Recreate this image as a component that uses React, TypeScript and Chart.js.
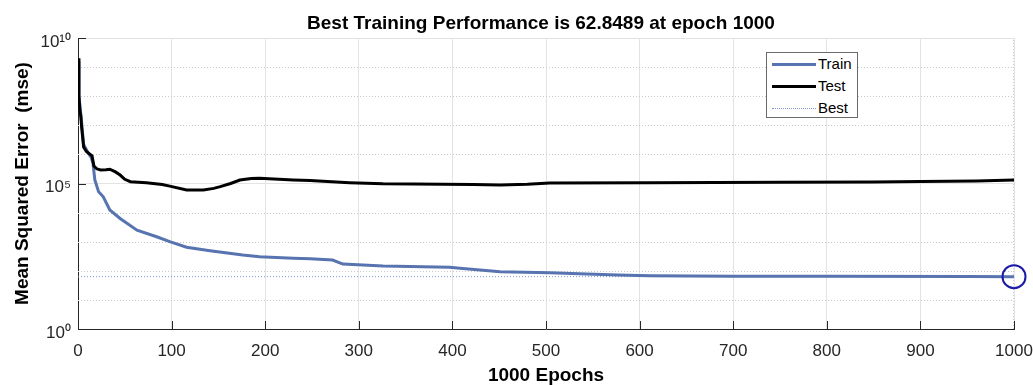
import React, { useEffect, useRef } from "react";
import { Chart, registerables } from "chart.js";

Chart.register(...registerables);

const titleText = "Best Training Performance is 62.8489 at epoch 1000";
const xAxisTitle = "1000 Epochs";
const yAxisTitle = "Mean Squared Error  (mse)";
const xTicks = [0, 100, 200, 300, 400, 500, 600, 700, 800, 900, 1000];
const yDecades = [0, 1, 2, 3, 4, 5, 6, 7, 8, 9, 10];
const yLabeled: Record<number, string> = { 0: "10⁰", 5: "10⁵", 10: "10¹⁰" };

const testEpochs = [0, 1, 2, 3, 4, 6, 9, 13, 15, 17, 20, 24, 30, 34, 40, 45, 50, 56, 73, 90, 98, 116, 134, 145, 152, 163, 173, 185, 194, 230, 248, 290, 326, 422, 451, 480, 504, 611, 750, 850, 900, 960, 1000];
const testMse = [2.0e9, 1.0e8, 3.2e7, 2.0e7, 7.9e6, 1.8e6, 1.26e6, 1.0e6, 8.9e5, 4.0e5, 3.2e5, 2.9e5, 2.95e5, 3.1e5, 2.5e5, 1.95e5, 1.4e5, 1.15e5, 1.07e5, 9.3e4, 8.1e4, 6.0e4, 6.0e4, 6.8e4, 7.8e4, 1.0e5, 1.32e5, 1.48e5, 1.51e5, 1.32e5, 1.26e5, 1.07e5, 9.8e4, 9.3e4, 8.9e4, 9.5e4, 1.05e5, 1.07e5, 1.1e5, 1.12e5, 1.17e5, 1.23e5, 1.32e5];

const trainEpochs = [0, 1, 3, 6, 11, 14, 16, 18, 22, 27, 34, 45, 63, 84, 98, 116, 141, 176, 194, 230, 248, 272, 283, 326, 397, 408, 451, 504, 576, 611, 700, 800, 950, 1000];
const trainMse = [1.6e9, 1.0e8, 2.5e7, 2.2e6, 1.1e6, 7.9e5, 4.9e5, 1.32e5, 5.2e4, 3.5e4, 1.23e4, 6.3e3, 2.5e3, 1.48e3, 1.0e3, 646, 490, 347, 302, 269, 257, 234, 170, 145, 132, 123, 93, 85, 72, 68, 65.3, 64.6, 63.8, 62.8489];

const bestEpoch = 1000;
const bestMse = 62.8489;
const yMin = 1;
const yMax = 1e10;
const xMin = 0;
const xMax = 1000;

const FONT = "'Liberation Sans', Arial, Helvetica, sans-serif";
const TRAIN_COLOR = "#5774b0";
const TEST_COLOR = "#000000";
const BEST_COLOR = "#8197d3";
const CIRCLE_COLOR = "#1a1aa6";
const AXIS_COLOR = "#262626";
const GRID_COLOR = "#e3e3e3";
const MINOR_COLOR = "#c9c9c9";

const axisDecorPlugin = {
  id: "axisDecor",
  beforeDatasetsDraw(chart: any) {
    const { ctx, chartArea, scales } = chart;
    const y = scales.y;
    const x = scales.x;
    ctx.save();
    ctx.strokeStyle = MINOR_COLOR;
    ctx.lineWidth = 1;
    ctx.setLineDash([1, 2]);
    yDecades.forEach((d) => {
      if (yLabeled[d] !== undefined) return;
      const py = Math.round(y.getPixelForValue(Math.pow(10, d))) + 0.5;
      ctx.beginPath();
      ctx.moveTo(chartArea.left, py);
      ctx.lineTo(chartArea.right, py);
      ctx.stroke();
    });
    ctx.setLineDash([]);
    ctx.strokeStyle = AXIS_COLOR;
    xTicks.forEach((t) => {
      const px = Math.round(x.getPixelForValue(t)) + 0.5;
      ctx.beginPath();
      ctx.moveTo(px, chartArea.bottom);
      ctx.lineTo(px, chartArea.bottom - 8);
      ctx.stroke();
    });
    yDecades.forEach((d) => {
      if (yLabeled[d] === undefined) return;
      const py = Math.round(y.getPixelForValue(Math.pow(10, d))) + 0.5;
      ctx.beginPath();
      ctx.moveTo(chartArea.left, py);
      ctx.lineTo(chartArea.left + 8, py);
      ctx.stroke();
    });
    ctx.restore();
  },
};

export default function App() {
  const canvasRef = useRef<HTMLCanvasElement | null>(null);

  useEffect(() => {
    const canvas = canvasRef.current;
    if (!canvas) return;
    const testData = testEpochs.map((e, i) => ({ x: e, y: testMse[i] }));
    const trainData = trainEpochs.map((e, i) => ({ x: e, y: trainMse[i] }));
    const chart = new Chart(canvas, {
      type: "line",
      data: {
        datasets: [
          {
            label: "Test",
            data: testData,
            borderColor: TEST_COLOR,
            borderWidth: 3,
            pointRadius: 0,
            tension: 0,
            order: 1,
          },
          {
            label: "Train",
            data: trainData,
            borderColor: TRAIN_COLOR,
            borderWidth: 3,
            pointRadius: 0,
            tension: 0,
            order: 2,
          },
          {
            label: "Best",
            data: [
              { x: xMin, y: bestMse },
              { x: xMax, y: bestMse },
            ],
            borderColor: BEST_COLOR,
            borderWidth: 1,
            borderDash: [1, 2],
            pointRadius: 0,
            order: 3,
          },
          {
            label: "BestEpoch",
            data: [
              { x: bestEpoch, y: yMin },
              { x: bestEpoch, y: yMax },
            ],
            borderColor: BEST_COLOR,
            borderWidth: 1,
            borderDash: [1, 2],
            pointRadius: 0,
            order: 3,
          },
          {
            label: "BestPoint",
            data: [{ x: bestEpoch, y: bestMse }],
            borderColor: CIRCLE_COLOR,
            backgroundColor: "rgba(0,0,0,0)",
            showLine: false,
            pointRadius: 11.5,
            pointBorderWidth: 2,
            pointBorderColor: CIRCLE_COLOR,
            pointBackgroundColor: "rgba(0,0,0,0)",
            clip: false as any,
            order: 0,
          },
        ],
      },
      options: {
        animation: false,
        responsive: false,
        devicePixelRatio: 1,
        layout: { padding: { left: 0, right: 0, top: 38, bottom: 0 } },
        plugins: {
          legend: { display: false },
          tooltip: { enabled: false },
          title: { display: false },
        },
        scales: {
          x: {
            type: "linear",
            min: xMin,
            max: xMax,
            afterBuildTicks: (scale: any) => {
              scale.ticks = xTicks.map((v) => ({ value: v }));
            },
            afterFit: (scale: any) => {
              scale.height = 56;
              scale.paddingLeft = 0;
              scale.paddingRight = 19;
            },
            ticks: {
              color: AXIS_COLOR,
              font: { family: FONT, size: 17 },
              padding: 12,
              maxRotation: 0,
              autoSkip: false,
              callback: (v: any) => String(v),
            },
            grid: {
              color: GRID_COLOR,
              drawTicks: false,
            },
            border: { color: AXIS_COLOR, width: 1 },
            title: {
              display: true,
              text: xAxisTitle,
              color: "#000",
              font: { family: FONT, size: 19, weight: "bold" },
              padding: { top: 0, bottom: -2 },
            },
          },
          y: {
            type: "logarithmic",
            min: yMin,
            max: yMax,
            afterBuildTicks: (scale: any) => {
              scale.ticks = yDecades.map((d) => ({ value: Math.pow(10, d) }));
            },
            afterFit: (scale: any) => {
              scale.width = 78;
              scale.paddingTop = 0;
              scale.paddingBottom = 0;
            },
            ticks: {
              color: AXIS_COLOR,
              font: { family: FONT, size: 17 },
              padding: 7,
              labelOffset: 4,
              autoSkip: false,
              callback: (v: any) => {
                const d = Math.round(Math.log10(Number(v)));
                return yLabeled[d] !== undefined ? yLabeled[d] : "";
              },
            },
            grid: {
              drawTicks: false,
              color: (c: any) => {
                const d = Math.round(Math.log10(Number(c.tick?.value)));
                return yLabeled[d] !== undefined ? GRID_COLOR : "rgba(0,0,0,0)";
              },
            },
            border: { color: AXIS_COLOR, width: 1 },
            title: {
              display: true,
              text: yAxisTitle,
              color: "#000",
              font: { family: FONT, size: 19, weight: "bold" },
              padding: { top: 11, bottom: 0 },
            },
          },
        },
      } as any,
      plugins: [axisDecorPlugin],
    });
    return () => chart.destroy();
  }, []);

  const legendRow = (label: string, style: React.CSSProperties, top: number) => (
    <div style={{ position: "absolute", left: 0, top, height: 20, width: 93 }}>
      <div style={{ position: "absolute", left: 5, top: 10, width: 44, ...style }} />
      <span
        style={{
          position: "absolute",
          left: 51,
          top: 1,
          fontFamily: FONT,
          fontSize: 15,
          lineHeight: "18px",
          color: "#000",
        }}
      >
        {label}
      </span>
    </div>
  );

  return (
    <div style={{ position: "fixed", left: 0, top: 0, width: 1033, height: 385, background: "#fff" }}>
      <canvas ref={canvasRef} width={1033} height={385} style={{ display: "block" }} />
      <div
        style={{
          position: "absolute",
          left: 241,
          top: 12,
          width: 600,
          textAlign: "center",
          whiteSpace: "nowrap",
          fontFamily: FONT,
          fontSize: 19,
          fontWeight: "bold",
          lineHeight: "21px",
          color: "#000",
        }}
      >
        {titleText}
      </div>
      <div
        style={{
          position: "absolute",
          left: 766,
          top: 52,
          width: 92,
          height: 66,
          border: "1px solid #6b6b6b",
          background: "#fff",
          boxSizing: "border-box",
        }}
      >
        {legendRow("Train", { borderTop: `3px solid ${TRAIN_COLOR}`, marginTop: -1 }, 1)}
        {legendRow("Test", { borderTop: `3px solid ${TEST_COLOR}`, marginTop: -1 }, 23)}
        {legendRow("Best", { borderTop: `1px dotted ${BEST_COLOR}` }, 45)}
      </div>
    </div>
  );
}
